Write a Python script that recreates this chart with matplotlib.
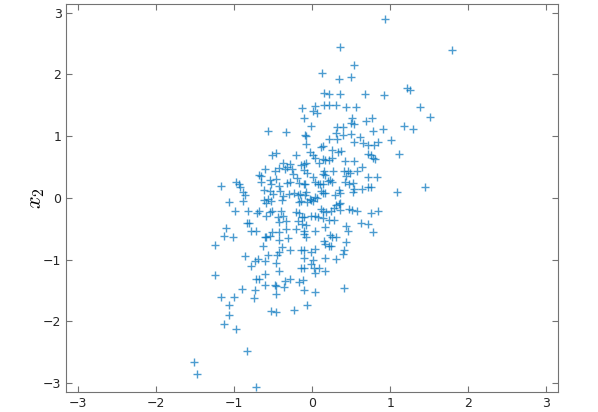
import numpy as np
from matplotlib import pyplot as plt

# sample points (x1, x2)
x1 = [0.93, 1.79, 0.36, 0.54, 0.12, 0.50, 0.35, 1.21, 1.26, 0.15,
      0.22, 0.36, 0.675, 0.925, -0.13, 0.035, 0.15, 0.21, 0.31, 0.43,
      0.56, 1.38, 0.01, 0.06, -0.10, 1.51, 0.51, 0.50, 0.53, 0.69,
      0.77, -0.02, 1.18, 0.32, 0.39, 1.29, 0.91, 0.785, -0.57, -0.34,
      0.31, -0.09, -0.075, 0.40, 0.50, 0.61, 0.21, 0.32, 1.01, 0.53,
      0.65, -0.08, 0.14, 0.11, 0.84, 0.72, 0.79, 0.25, 0.33, 0.37,
      -0.03, 1.11, -0.52, -0.46, -0.21, 0.01, 0.71, 0.75, 0.78, 0.81,
      0.14, 0.17, 0.22, 0.25, 0.035, 0.42, 0.54, -0.37, -0.285, -0.145,
      -0.10, -0.075, 0.09, 0.64, -0.61, -0.47, -0.42, -0.35, -0.32, -0.26,
      -0.24, -0.10, -0.07, 0.15, 0.14, 0.16, 0.27, 0.46, 0.48, 0.41,
      0.58, 0.71, 0.83, -0.68, -0.655, -0.66, -0.54, -0.46, -0.53, -0.43,
      -0.32, -0.29, -0.20, -0.17, -0.11, -0.09, 0.01, 0.035, 0.075, 0.10,
      0.20, 0.23, 0.25, 0.14, 0.42, 0.47, 0.52, 0.43, 0.535, 0.52,
      0.64, 0.71, 0.75, -1.17, -0.98, -0.94, -0.92, -0.89, -0.86, -1.07,
      -0.89, -0.99, 1.09, 1.45, -0.62, -0.54, -0.50, -0.41, -0.37, -0.30,
      -0.23, -0.18, -0.16, -0.09, -0.08, -0.03, -0.01, 0.01, 0.11, 0.14,
      0.16, 0.29, 0.34, 0.36, -0.62, -0.59, -0.56, -0.53, -0.39, -0.14,
      -0.17, -0.06, 0.06, 0.04, 0.35, 0.36, 0.31, -0.82, -0.71, -0.68,
      -0.54, -0.52, -0.40, -0.21, -0.17, 0.11, 0.14, 0.18, 0.24, 0.28,
      0.36, 0.47, 0.51, 0.57, 0.75, 0.85, -0.59, -0.44, -0.37, -0.13,
      -0.10, -0.02, 0.035, 0.075, 0.285, 0.14, -0.84, -0.81, -0.43, -0.33,
      -0.175, -0.13, -0.075, 0.21, -1.10, -1.13, -1.02, -0.78, -0.72, -0.52,
      -0.535, -0.42, -0.33, -0.21, -0.11, -0.10, 0.04, 0.16, 0.43, 0.46,
      0.62, 0.715, 0.78, -0.60, -0.59, -0.43, -0.31, -0.08, 0.23, 0.26,
      0.30, 0.15, 0.44, 0.17, 0.21, 0.24, -1.25, -0.63, -0.38, -0.29,
      -0.14, -0.11, 0.04, -0.01, 0.41, 0.39, -0.86, -0.70, -0.73, -0.56,
      -0.45, -0.42, -0.10, 0.01, 0.17, 0.30, -0.78, -0.60, -0.46, -0.43,
      -0.14, -0.10, -0.01, 0.03, 0.09, 0.17, 0.035, -1.25, -0.61, -0.72,
      -0.68, -0.60, -0.48, -0.46, -0.36, -0.35, -0.28, -0.17, -0.12, -0.10,
      0.035, 0.41, -0.90, -0.73, -0.46, -1.17, -1.00, -0.75, -1.07, -1.07,
      -0.53, -0.46, -0.23, -0.07, -1.13, -0.97, -0.83, -1.51, -1.47, -0.72]
x2 = [2.89, 2.40, 2.44, 2.15, 2.03, 1.95, 1.92, 1.78, 1.74, 1.70,
      1.68, 1.68, 1.68, 1.66, 1.46, 1.49, 1.50, 1.50, 1.51, 1.47,
      1.47, 1.47, 1.41, 1.37, 1.29, 1.31, 1.29, 1.21, 1.19, 1.25,
      1.29, 1.16, 1.17, 1.15, 1.15, 1.11, 1.11, 1.09, 1.09, 1.06,
      1.05, 1.02, 1.00, 1.01, 1.03, 0.99, 0.96, 0.95, 0.94, 0.91,
      0.89, 0.87, 0.84, 0.82, 0.90, 0.86, 0.85, 0.78, 0.75, 0.76,
      0.75, 0.71, 0.70, 0.72, 0.69, 0.70, 0.71, 0.69, 0.65, 0.63,
      0.63, 0.62, 0.62, 0.64, 0.64, 0.59, 0.59, 0.56, 0.55, 0.54,
      0.55, 0.56, 0.56, 0.50, 0.46, 0.44, 0.48, 0.46, 0.50, 0.46,
      0.38, 0.45, 0.40, 0.43, 0.38, 0.37, 0.43, 0.44, 0.41, 0.43,
      0.44, 0.34, 0.33, 0.37, 0.35, 0.25, 0.29, 0.31, 0.22, 0.19,
      0.24, 0.25, 0.32, 0.24, 0.23, 0.22, 0.34, 0.26, 0.23, 0.22,
      0.28, 0.29, 0.26, 0.23, 0.25, 0.22, 0.24, 0.36, 0.14, 0.10,
      0.14, 0.17, 0.17, 0.19, 0.25, 0.22, 0.17, 0.09, 0.05, -0.06,
      -0.05, -0.21, 0.09, 0.17, 0.13, 0.11, 0.06, 0.11, 0.03, 0.06,
      0.08, 0.05, 0.06, 0.04, 0.09, -0.02, -0.03, -0.05, 0.11, 0.08,
      0.08, 0.05, 0.13, 0.08, -0.04, -0.09, -0.02, -0.05, -0.03, -0.05,
      -0.07, -0.07, -0.01, 0.01, -0.10, -0.08, -0.12, -0.21, -0.24, -0.22,
      -0.23, -0.22, -0.22, -0.23, -0.24, -0.18, -0.21, -0.23, -0.21, -0.17,
      -0.19, -0.18, -0.19, -0.21, -0.24, -0.21, -0.29, -0.31, -0.29, -0.31,
      -0.31, -0.30, -0.30, -0.31, -0.36, -0.32, -0.41, -0.40, -0.39, -0.38,
      -0.37, -0.42, -0.44, -0.36, -0.49, -0.61, -0.64, -0.54, -0.54, -0.55,
      -0.62, -0.55, -0.51, -0.50, -0.54, -0.58, -0.53, -0.48, -0.45, -0.53,
      -0.41, -0.43, -0.55, -0.64, -0.64, -0.68, -0.65, -0.63, -0.60, -0.64,
      -0.64, -0.70, -0.72, -0.75, -0.78, -0.78, -0.76, -0.78, -0.80, -0.85,
      -0.84, -0.84, -0.83, -0.88, -0.85, -0.91, -0.95, -0.99, -1.03, -0.93,
      -0.93, -0.87, -0.98, -1.01, -0.97, -0.99, -1.10, -1.03, -1.06, -1.18,
      -1.14, -1.14, -1.07, -1.14, -1.14, -1.19, -1.22, -1.25, -1.24, -1.32,
      -1.32, -1.41, -1.41, -1.43, -1.44, -1.34, -1.31, -1.37, -1.33, -1.50,
      -1.52, -1.46, -1.48, -1.50, -1.55, -1.61, -1.61, -1.62, -1.73, -1.89,
      -1.83, -1.85, -1.82, -1.73, -2.04, -2.12, -2.48, -2.66, -2.86, -3.06]

x_ticks = [-3, -2, -1, 0, 1, 2, 3]
y_ticks = [-3, -2, -1, 0, 1, 2, 3]

plt.rcParams['mathtext.fontset'] = 'cm'

fig = plt.figure(figsize=(5.98, 4.12), dpi=100)
ax = fig.add_axes([0.1109, 0.0493, 0.8222, 0.941])

ax.plot(x1, x2, linestyle='none', marker='+', markersize=6, markeredgewidth=1.0,
        color=(0, 0.447, 0.741), alpha=0.7)

ax.set_xlim(-3.15, 3.15)
ax.set_ylim(-3.14, 3.14)
ax.set_xticks(x_ticks)
ax.set_yticks(y_ticks)
ax.set_ylabel(r'$x_2$', fontsize=16, labelpad=-3)

for side in ['left', 'right', 'top', 'bottom']:
    ax.spines[side].set_color('0.45')
    ax.spines[side].set_linewidth(0.8)
ax.tick_params(direction='in', length=4, width=0.8, color='0.45',
               top=True, right=True, labelsize=9, labelcolor='0.15')

fig.savefig('out.png', dpi=100)
